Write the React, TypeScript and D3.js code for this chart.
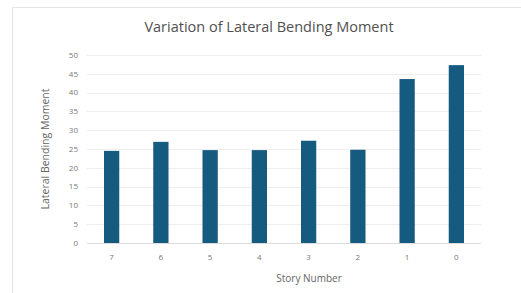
import React, { useEffect, useRef } from 'react';
import * as d3 from 'd3';

const stories = ['7', '6', '5', '4', '3', '2', '1', '0'];
const moments = [24.5, 26.9, 24.7, 24.7, 27.2, 24.8, 43.6, 47.3];
const yTicks = [0, 5, 10, 15, 20, 25, 30, 35, 40, 45, 50];

const W = 521;
const H = 293;

const App: React.FC = () => {
  const ref = useRef<SVGSVGElement>(null);

  useEffect(() => {
    const svg = d3.select(ref.current);
    svg.selectAll('*').remove();

    const margin = { top: 55, right: 40, bottom: 50, left: 87 };
    const width = W - margin.left - margin.right;
    const height = H - margin.top - margin.bottom;

    // frame
    svg.append('path')
      .attr('d', `M12.5,${H} L12.5,7.5 L${W},7.5`)
      .attr('fill', 'none')
      .attr('stroke', '#e6e6e6');

    svg.append('text')
      .attr('x', 269)
      .attr('y', 32)
      .attr('text-anchor', 'middle')
      .attr('font-family', 'Open Sans, sans-serif')
      .attr('font-size', 14.5)
      .attr('fill', '#505050')
      .text('Variation of Lateral Bending Moment');

    const x = d3.scaleBand<string>()
      .domain(stories)
      .range([0, width])
      .paddingInner(0.69)
      .paddingOuter(0.345);

    const y = d3.scaleLinear()
      .domain([0, 50])
      .range([height, 0]);

    const g = svg.append('g').attr('transform', `translate(${margin.left},${margin.top})`);

    // grid
    g.selectAll('.grid')
      .data(yTicks)
      .enter().append('line')
      .attr('x1', 0)
      .attr('x2', width)
      .attr('y1', d => Math.round(y(d)) + 0.5)
      .attr('y2', d => Math.round(y(d)) + 0.5)
      .attr('stroke', d => (d === 0 ? '#dcdcdc' : '#eeeeee'))
      .attr('stroke-width', 1);

    g.selectAll('.ylab')
      .data(yTicks)
      .enter().append('text')
      .attr('x', -9)
      .attr('y', d => y(d))
      .attr('dy', '0.35em')
      .attr('text-anchor', 'end')
      .attr('font-family', 'Open Sans, sans-serif')
      .attr('font-size', 8)
      .attr('fill', '#777')
      .text(d => d);

    g.selectAll('.bar')
      .data(moments)
      .enter().append('rect')
      .attr('x', (d, i) => x(stories[i]) ?? 0)
      .attr('y', d => y(d))
      .attr('width', x.bandwidth())
      .attr('height', d => height - y(d))
      .attr('fill', '#155a7f');

    g.selectAll('.xlab')
      .data(stories)
      .enter().append('text')
      .attr('x', d => (x(d) ?? 0) + x.bandwidth() / 2)
      .attr('y', height + 17)
      .attr('text-anchor', 'middle')
      .attr('font-family', 'Open Sans, sans-serif')
      .attr('font-size', 8)
      .attr('fill', '#777')
      .text(d => d);

    svg.append('text')
      .attr('x', 309)
      .attr('y', 282)
      .attr('text-anchor', 'middle')
      .attr('font-family', 'Open Sans, sans-serif')
      .attr('font-size', 10)
      .attr('fill', '#666')
      .text('Story Number');

    svg.append('text')
      .attr('transform', `translate(49,149) rotate(-90)`)
      .attr('text-anchor', 'middle')
      .attr('font-family', 'Open Sans, sans-serif')
      .attr('font-size', 10.5)
      .attr('fill', '#666')
      .text('Lateral Bending Moment');
  }, []);

  return <svg ref={ref} width={W} height={H} style={{ position: 'absolute', left: 0, top: 0 }} />;
};

export default App;
